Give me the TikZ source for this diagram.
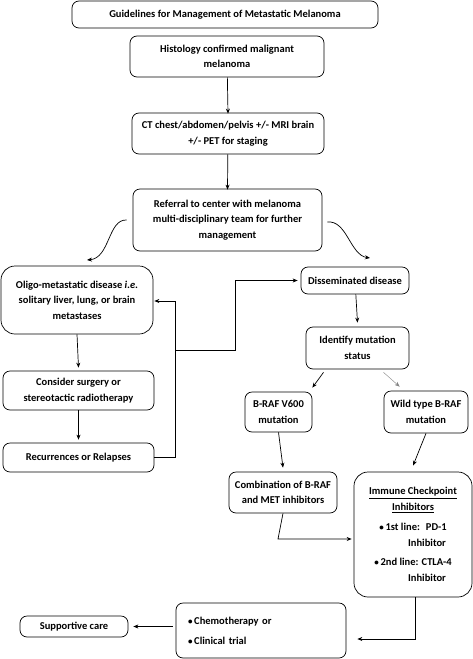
\documentclass[tikz,border=0pt]{standalone}
\usepackage{fontspec}
\setmainfont{Carlito}
\usetikzlibrary{arrows.meta,calc}
\begin{document}
\begin{tikzpicture}[x=1pt,y=-1pt,
  box/.style={draw, line width=0.7pt, rounded corners=7pt, align=center, inner sep=2pt, font=\bfseries\fontsize{10.5}{15.5}\selectfont},
  arr/.style={line width=0.7pt, -{Stealth[length=5pt,width=4pt]}},
  ln/.style={line width=0.7pt}]
\useasboundingbox (0,0) rectangle (473,659);
\node[box, minimum width=306pt, minimum height=27pt] (title) at (225,14.5) {Guidelines for Management of Metastatic Melanoma};
\node[box, minimum width=194pt, minimum height=41pt] (hist) at (227,56.5) {Histology confirmed malignant\\melanoma};
\node[box, minimum width=192pt, minimum height=41pt] (ct) at (228,133.5) {CT chest/abdomen/pelvis +/- MRI brain\\+/- PET for staging};
\node[box, minimum width=189pt, minimum height=62pt] (ref) at (227.5,220) {Referral to center with melanoma\\multi-disciplinary team for further\\management};
\node[box, rounded corners=14pt, minimum width=152pt, minimum height=68pt] (oligo) at (77,300) {Oligo-metastatic disease \textit{i.e.}\\solitary liver, lung, or brain\\metastases};
\node[box, minimum width=151pt, minimum height=39pt] (surg) at (78.5,390.5) {Consider surgery or\\stereotactic radiotherapy};
\node[box, minimum width=151pt, minimum height=29pt] (rec) at (78.5,457.5) {Recurrences or Relapses};
\node[box, minimum width=108pt, minimum height=27pt] (diss) at (355,280.5) {Disseminated disease};
\node[box, minimum width=103pt, minimum height=42pt] (ident) at (357.5,348) {Identify mutation\\status};
\node[box, minimum width=67pt, minimum height=40pt] (braf) at (278.5,412) {B-RAF V600\\mutation};
\node[box, minimum width=84pt, minimum height=42pt] (wild) at (426,412) {Wild type B-RAF\\mutation};
\node[box, minimum width=108pt, minimum height=41pt] (comb) at (283,492.5) {Combination of B-RAF\\and MET inhibitors};
\node[box, rounded corners=14pt, minimum width=118pt, minimum height=125pt, font=\bfseries\fontsize{10.5}{16}\selectfont] (imm) at (413,534.5) {\underline{Immune Checkpoint}\\\underline{Inhibitors}\\[4pt]{\small\textbullet}\,1st line:\hspace{6pt}PD-1\\\hspace*{28pt}Inhibitor\\[3pt]{\small\textbullet}\,2nd line: CTLA-4\\\hspace*{28pt}Inhibitor};
\node[box, minimum width=170pt, minimum height=55pt, text width=146pt, inner xsep=12pt, align=left, font=\bfseries\fontsize{10.5}{20}\selectfont] (chemo) at (261,630.5) {{\small\textbullet}\,Chemotherapy or\\{\small\textbullet}\,Clinical trial};
\node[box, minimum width=108pt, minimum height=21pt] (supp) at (74,626.5) {Supportive care};
% connectors
\draw[arr] (hist) -- ([yshift=-1pt]ct.north);
\draw[arr] (ct) -- ([yshift=-1pt]ref.north);
\draw[arr] ([xshift=-6pt]ref.west) .. controls (108,219) and (110,258) .. (87,260);
\draw[arr] ([xshift=5pt,yshift=-2pt]ref.east) .. controls (347,220) and (350,255) .. (370,258);
\draw[arr] (oligo.south) -- ([yshift=3pt]surg.north);
\draw[arr] (surg.south) -- ([yshift=3pt]rec.north);
\coordinate (fb) at (175,301);
\coordinate (j1) at (175,350);
\coordinate (j2) at (235,280.5);
\draw[arr] (rec.east) -| (fb) -- ([xshift=1pt]oligo.east|-fb);
\draw[arr] (j1) -| (j2) -- ([xshift=-3pt]diss.west);
\draw[arr] (diss) -- ([yshift=4pt]ident.north);
\draw[arr] ([xshift=-34pt,yshift=-3pt]ident.south) -- ([yshift=4pt]braf.north east);
\draw[line width=0.4pt, draw=gray, -{Stealth[length=5pt,width=4pt]}] ([xshift=26pt,yshift=-3pt]ident.south) -- ([xshift=16pt,yshift=4pt]wild.north west);
\draw[arr] (braf.south) -- ([yshift=4pt]comb.north);
\draw[arr] (wild.south) -- ([yshift=6pt]imm.north);
\coordinate (c1) at (278,539);
\draw[arr] (comb.south) -- (c1) -- ([xshift=-2pt]imm.west|-c1);
\coordinate (c2) at (415,639);
\draw[arr] (imm.south-|c2) -- (c2) -- ([xshift=11pt]chemo.east|-c2);
\draw[arr] ([xshift=-3pt]chemo.west|-supp) -- ([xshift=5pt]supp.east);
\end{tikzpicture}
\end{document}
